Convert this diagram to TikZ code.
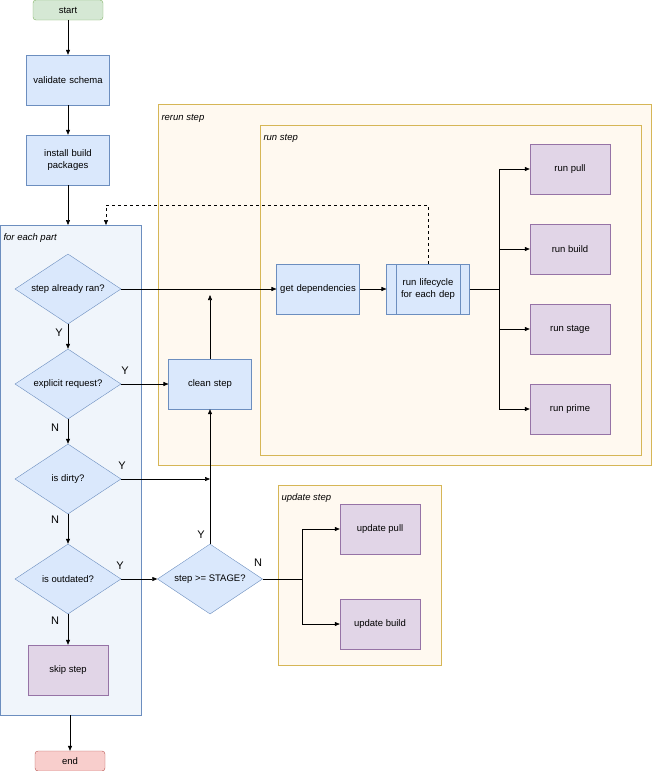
\documentclass[tikz,border=0pt]{standalone}
\usepackage{fontspec}
\setmainfont{Liberation Sans}
\usetikzlibrary{shapes.geometric,arrows.meta}
\definecolor{bfill}{HTML}{DAE8FC}\definecolor{bdraw}{HTML}{6C8EBF}
\definecolor{pfill}{HTML}{E1D5E7}\definecolor{pdraw}{HTML}{9673A6}
\definecolor{gfill}{HTML}{D5E8D4}\definecolor{gdraw}{HTML}{82B366}
\definecolor{rfill}{HTML}{F8CECC}\definecolor{rdraw}{HTML}{B85450}
\definecolor{yfill}{HTML}{FFF9F0}\definecolor{ydraw}{HTML}{D6B656}
\definecolor{cfill}{HTML}{F0F5FB}
\begin{document}
\begin{tikzpicture}[x=1pt,y=-1pt,font=\fontsize{9.5}{11.5}\selectfont,
 box/.style={draw=bdraw,fill=bfill,minimum width=80pt,minimum height=50pt,align=center,text width=76pt},
 pbox/.style={draw=pdraw,fill=pfill,minimum width=80pt,minimum height=50pt,align=center},
 dia/.style={diamond,aspect=1.5,draw=bdraw,fill=bfill,minimum width=106pt,minimum height=70pt,inner sep=0pt,align=center},
 term/.style={rounded corners=3pt,minimum width=70pt,minimum height=20pt},
 arr/.style={-{Triangle[length=5pt,width=4pt]},line width=0.6pt},
 ln/.style={line width=0.6pt},
 cont/.style={draw=ydraw,fill=yfill,line width=0.5pt},
 yl/.style={font=\fontsize{11}{13}\selectfont},
 lab/.style={anchor=west,font=\fontsize{9.5}{11.5}\selectfont\itshape}]
\useasboundingbox (0,0) rectangle (651,771);
% containers
\draw[draw=bdraw,fill=cfill] (0,225) rectangle (141,715);
\node[lab] at (0,238) {for each part};
\draw[cont] (158,104) rectangle (651,465);
\node[lab] at (158,118) {rerun step};
\draw[cont] (260,125) rectangle (641,455);
\node[lab] at (260,138) {run step};
\draw[cont] (278,485) rectangle (441,665);
\node[lab] at (278,498) {update step};
\coordinate (ctop) at (68,225);
\coordinate (dtop) at (106,225);
\coordinate (cbot) at (70,715);
% nodes
\node[term,draw=gdraw,fill=gfill] (start) at (68,10) {start};
\node[box] (val) at (68,80) {validate schema};
\node[box] (inst) at (68,160) {install build packages};
\node[dia] (d1) at (68,289) {step already ran?};
\node[dia] (d2) at (68,384) {explicit request?};
\node[dia] (d3) at (68,479) {is dirty?};
\node[dia] (d4) at (68,579) {is outdated?};
\node[pbox] (skip) at (68,670) {skip step};
\node[term,draw=rdraw,fill=rfill] (end) at (70,761) {end};
\node[box] (clean) at (210,384) {clean step};
\node[dia,minimum width=105pt] (d5) at (210,579) {step >= STAGE?};
\node[box] (deps) at (318,289) {get dependencies};
\node[box] (life) at (428,289) {run lifecycle for each dep};
\draw[bdraw] (396,264) -- (396,314) (460,264) -- (460,314);
\node[pbox] (rpull) at (570,169) {run pull};
\node[pbox] (rbuild) at (570,249) {run build};
\node[pbox] (rstage) at (570,329) {run stage};
\node[pbox] (rprime) at (570,409) {run prime};
\node[pbox] (upull) at (380,529) {update pull};
\node[pbox] (ubuild) at (380,624) {update build};
% connectors
\draw[arr] (start) -- (val);
\draw[arr] (val) -- (inst);
\draw[arr] (inst) -- (ctop);
\draw[arr,dashed,line width=0.5pt] (life.north) -- (428,205) -- (106,205) -- (dtop);
\draw[arr] (d1) -- (deps);
\draw[arr] (deps) -- (life);
\coordinate (br) at (499,289);
\draw[ln] (life) -- (br);
\foreach \n in {rpull,rbuild,rstage,rprime} \draw[arr] (br) |- (\n);
\draw[arr] (d1) -- (d2);
\draw[arr] (d2) -- (clean);
\draw[arr] (d2) -- (d3);
\coordinate (m3) at (210,479);
\draw[arr] (d3) -- (m3);
\draw[arr] (d3) -- (d4);
\draw[arr] (d4) -- (d5);
\draw[arr] (d4) -- (skip);
\draw[arr] (d5) -- (clean);
\coordinate (m1) at (210,295);
\draw[arr] (clean) -- (m1);
\coordinate (br2) at (302,579);
\draw[ln] (d5) -- (br2);
\draw[arr] (br2) |- (upull);
\draw[arr] (br2) |- (ubuild);
\draw[arr] (cbot) -- (end);
% edge labels
\node[yl] (l1) at (59,333) {Y};
\node[yl] (l2) at (125,371) {Y};
\node[yl] (l3) at (55,428) {N};
\node[yl] (l4) at (122,466) {Y};
\node[yl] (l5) at (55,520) {N};
\node[yl] (l6) at (120,566) {Y};
\node[yl] (l7) at (55,621) {N};
\node[yl] (l8) at (201,535) {Y};
\node[yl] (l9) at (258,563) {N};
\end{tikzpicture}
\end{document}
